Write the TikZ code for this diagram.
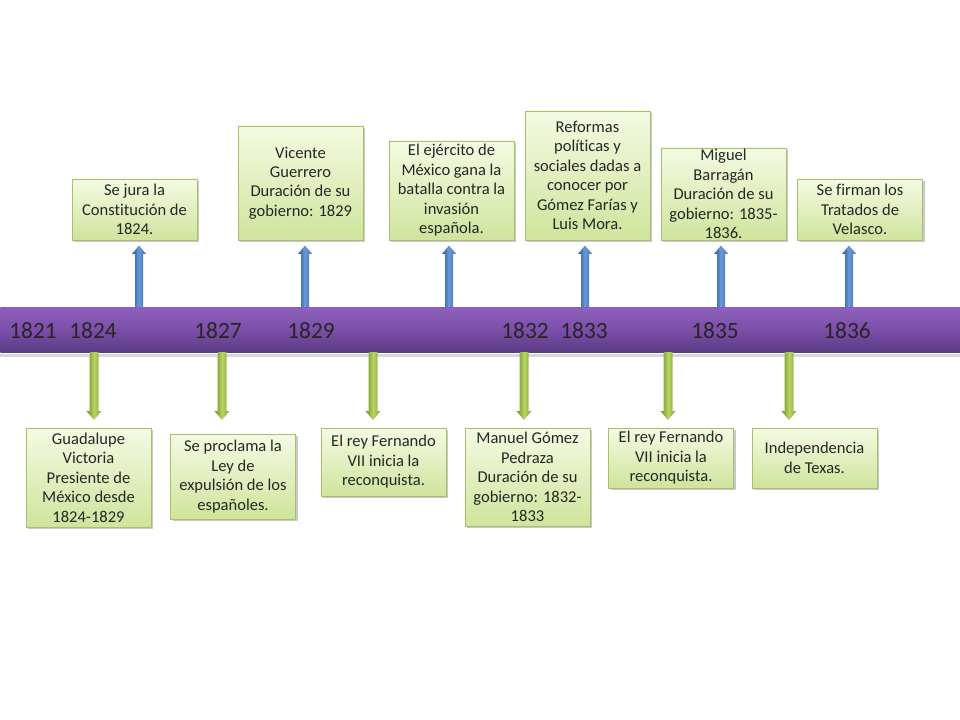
\documentclass[tikz,border=0pt]{standalone}
\usepackage{fontspec}
\setmainfont{Carlito}[Ligatures={NoCommon}]
\usetikzlibrary{shadows}
\definecolor{barT}{HTML}{8E60BE}
\definecolor{barM}{HTML}{7B4EA8}
\definecolor{barB}{HTML}{5C3B85}
\definecolor{boxT}{HTML}{F4FAE2}
\definecolor{boxB}{HTML}{CFE49C}
\definecolor{boxD}{HTML}{A7C06C}
\definecolor{bluL}{HTML}{2A5A9C}
\definecolor{bluM}{HTML}{6A9AD6}
\definecolor{bluR}{HTML}{3A6BB0}
\definecolor{grnL}{HTML}{6F8E27}
\definecolor{grnM}{HTML}{B6D463}
\definecolor{grnR}{HTML}{86A838}
\tikzset{
  evbox/.style={draw=boxD, line width=0.5pt, top color=boxT, bottom color=boxB,
    minimum width=93.75pt, align=center, inner sep=1pt,
    font=\fontsize{12.4}{14.6}\selectfont, text=black!85,
    drop shadow={shadow xshift=1.5pt, shadow yshift=-1.5pt, opacity=0.35, fill=black!60}},
  yearlbl/.style={font=\fontsize{17.5}{20}\selectfont, text=black!85, inner sep=0pt},
  bluarrow/.style={left color=bluL, right color=bluR, middle color=bluM},
  grnarrow/.style={left color=grnL, right color=grnR, middle color=grnM},
}
\begin{document}
\begin{tikzpicture}[x=0.75pt,y=-0.75pt]
\useasboundingbox (0,0) rectangle (960,720);
\fill[white] (0,0) rectangle (960,720);
% timeline bar
\fill[black!30, opacity=0.5] (0,354) rectangle (960,357);
\node[anchor=north west, minimum width=720pt, minimum height=33.75pt, inner sep=0pt,
  top color=barT, bottom color=barB, middle color=barM] (bar) at (0,307) {};
% years
\foreach \x/\y in {33/1821, 93/1824, 218/1827, 311/1829, 525/1832, 584/1833, 715/1835, 847/1836}
  \node[yearlbl] (y\y) at (\x,331) {\y};
% top boxes
\node[evbox, minimum height=45.75pt] (t1) at (134.5,209.5) {Se jura la\\Constitución de\\1824.};
\node[evbox, minimum height=85.5pt] (t2) at (300.5,183) {Vicente\\Guerrero\\Duración de su\\gobierno: 1829};
\node[evbox, minimum height=74.25pt] (t3) at (451.5,190.5) {El ejército de\\México gana la\\batalla contra la\\invasión\\española.};
\node[evbox, minimum height=96.75pt] (t4) at (587.5,175.5) {Reformas\\políticas y\\sociales dadas a\\conocer por\\Gómez Farías y\\Luis Mora.};
\node[evbox, minimum height=69pt, inner sep=0pt] (t5) at (723.5,194) {Miguel\\Barragán\\Duración de su\\gobierno: 1835-\\1836.};
\node[evbox, minimum height=45.75pt] (t6) at (860,209.5) {Se firman los\\Tratados de\\Velasco.};
% bottom boxes
\node[evbox, minimum height=74.25pt] (b1) at (88.5,477.5) {Guadalupe\\Victoria\\Presiente de\\México desde\\1824-1829};
\node[evbox, minimum height=63.75pt] (b2) at (233,476.5) {Se proclama la\\Ley de\\expulsión de los\\españoles.};
\node[evbox, minimum height=51pt] (b3) at (383.5,462) {El rey Fernando\\VII inicia la\\reconquista.};
\node[evbox, minimum height=73.5pt] (b4) at (527.5,477) {Manuel Gómez\\Pedraza\\Duración de su\\gobierno: 1832-\\1833};
\node[evbox, minimum height=45pt] (b5) at (671,458) {El rey Fernando\\VII inicia la\\reconquista.};
\node[evbox, minimum height=45pt] (b6) at (814.5,458) {Independencia\\de Texas.};
% up arrows (blue)
\foreach \x/\n in {139/t1, 305/t2, 449/t3, 585/t4, 721/t5, 849/t6}{
  \coordinate (u\n) at (\x,307);
  \shade[bluarrow] (\x-4,307) -- (\x-4,254) -- (\x-7,254) -- (\x,245.5) -- (\x+7,254) -- (\x+4,254) -- (\x+4,307) -- cycle;
}
% down arrows (green)
\foreach \x/\n in {94/b1, 222/b2, 373/b3, 524/b4, 668/b5, 789/b6}{
  \coordinate (d\n) at (\x,352);
  \shade[grnarrow] (\x-4.5,352) -- (\x-4.5,411) -- (\x-7.5,411) -- (\x,420) -- (\x+7.5,411) -- (\x+4.5,411) -- (\x+4.5,352) -- cycle;
}
\end{tikzpicture}
\end{document}
